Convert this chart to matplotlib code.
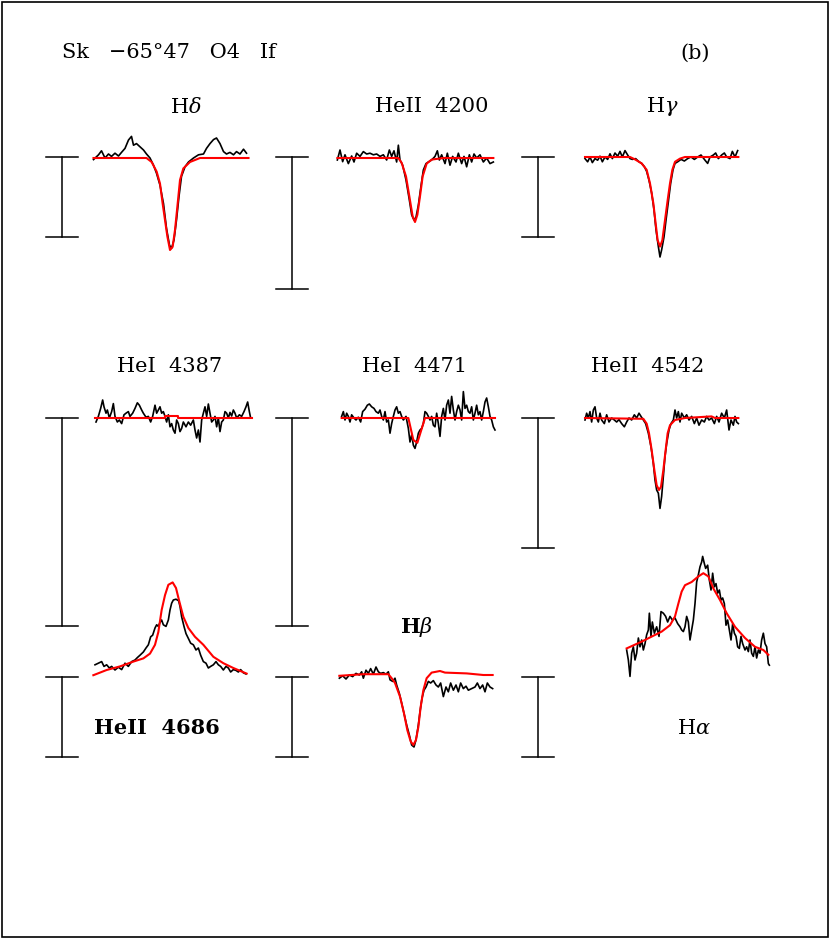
import matplotlib
matplotlib.use('Agg')
import matplotlib.pyplot as plt
from matplotlib.transforms import Affine2D
from matplotlib.patches import Rectangle

plt.rcParams['font.family'] = ['DejaVu Serif']
plt.rcParams['mathtext.fontset'] = 'dejavuserif'

# ---- data: wavelength offset (A) and normalised flux, observed + model ----
# H delta
hd_x = [-15.3, -14.3, -13.7, -13.0, -12.3, -11.7, -11.0, -10.3, -9.7, -9.0, -8.3, -7.7, -7.3, -6.7, -6.0,
        -5.3, -4.7, -4.0, -3.3, -2.7, -2.0, -1.3, -0.7, -0.1, 0.3, 0.8, 1.3, 1.8, 2.3, 3.0, 3.7, 4.7,
        5.7, 6.7, 7.3, 8.0, 8.7, 9.3, 10.0, 10.7, 11.3, 12.0, 12.7, 13.3, 14.0, 14.7, 15.3]
hd_f = [0.998, 1.004, 1.009, 1.000, 1.005, 1.002, 1.006, 1.0025, 1.007, 1.012, 1.0225, 1.027, 1.016, 1.018,
        1.014, 1.010, 1.005, 1.000, 0.991, 0.981, 0.966, 0.943, 0.912, 0.891, 0.887, 0.8975, 0.9225, 0.952,
        0.977, 0.989, 0.995, 1.000, 1.004, 1.005, 1.012, 1.018, 1.023, 1.025, 1.018, 1.008, 1.005, 1.007,
        1.004, 1.008, 1.005, 1.011, 1.006]
hd_mx = [-15.3, -4.7, -3.67, -2.67, -2.0, -1.47, -1.0, -0.53, 0.0, 0.53, 1.0, 1.47, 2.0, 2.67, 4.0, 6.0, 15.7]
hd_mf = [1.0, 1.0, 0.995, 0.983, 0.968, 0.943, 0.9225, 0.902, 0.885, 0.889, 0.91, 0.939, 0.9725, 0.987,
         0.995, 1.0, 1.0]

# HeII 4200
he4200_x = [-15.33, -14.8, -14.27, -13.8, -13.13, -12.47, -12.0, -11.47, -10.8, -10.13, -9.47, -8.8, -8.13,
            -7.47, -6.8, -6.13, -5.47, -4.93, -4.47, -4.0, -3.47, -3.13, -2.8, -2.27, -1.6, -0.93, -0.47,
            0.0, 0.4, 0.87, 1.33, 1.87, 2.4, 2.87, 3.53, 4.2, 4.67, 5.07, 5.53, 6.2, 6.67, 7.2, 7.73, 8.4,
            8.87, 9.53, 10.0, 10.53, 11.07, 11.53, 12.0, 12.53, 13.2, 13.87, 14.53, 15.2, 15.87]
he4200_f = [0.9975, 1.010, 0.9954, 1.004, 0.993, 1.0025, 0.995, 1.006, 1.002, 1.008, 1.005, 1.006, 1.004,
            1.005, 1.002, 1.004, 0.9975, 1.010, 1.002, 1.009, 0.995, 1.016, 0.9975, 0.991, 0.9725, 0.9475,
            0.929, 0.9225, 0.926, 0.941, 0.962, 0.985, 0.993, 0.995, 0.9975, 1.002, 1.009, 0.9975, 1.004,
            0.993, 1.006, 0.991, 1.002, 0.995, 1.006, 0.993, 1.002, 0.989, 1.004, 0.995, 1.005, 1.0, 1.004,
            0.995, 1.0, 0.993, 0.995]
he4200_mx = [-15.33, -3.13, -2.47, -1.6, -0.93, -0.27, 0.2, 0.67, 1.2, 1.73, 2.53, 3.53, 5.9, 15.87]
he4200_mf = [1.0, 1.0, 0.994, 0.977, 0.952, 0.927, 0.920, 0.929, 0.952, 0.977, 0.993, 0.998, 1.0, 1.0]

# H gamma
hg_x = [-15.0, -14.47, -14.0, -13.53, -13.0, -12.47, -12.0, -11.53, -11.0, -10.47, -10.0, -9.53, -9.0,
        -8.47, -8.0, -7.53, -7.0, -6.47, -6.0, -5.53, -4.87, -4.2, -3.67, -3.13, -2.67, -2.2, -1.67, -1.2,
        -0.8, -0.33, 0.0, 0.33, 0.8, 1.2, 1.67, 2.13, 2.6, 3.0, 3.53, 4.2, 4.87, 5.53, 6.2, 6.87, 7.53,
        8.2, 9.0, 9.53, 10.0, 10.67, 11.13, 11.67, 12.33, 12.87, 13.33, 14.0, 14.47, 15.0, 15.53]
hg_f = [0.998, 0.994, 1.0, 0.993, 0.998, 0.996, 1.001, 0.994, 1.0, 0.997, 1.004, 0.998, 1.005, 1.001,
        1.007, 1.0, 1.008, 1.0025, 0.998, 0.997, 0.998, 0.994, 0.992, 0.988, 0.982, 0.971, 0.955, 0.934,
        0.909, 0.888, 0.875, 0.884, 0.900, 0.921, 0.944, 0.967, 0.984, 0.992, 0.994, 0.997, 0.995, 0.998,
        1.0, 0.997, 1.0, 1.0025, 0.996, 0.992, 1.0, 1.0025, 1.005, 0.998, 1.0025, 1.005, 1.0, 0.998, 1.007,
        1.0, 1.008]
hg_mx = [-15.0, -6.0, -5.0, -3.67, -2.67, -2.0, -1.33, -0.87, -0.47, 0.0, 0.47, 1.0, 1.53, 2.0, 2.47,
         3.0, 4.0, 5.0, 15.67]
hg_mf = [1.0, 1.0, 0.997, 0.992, 0.984, 0.967, 0.942, 0.917, 0.896, 0.888, 0.896, 0.921, 0.946, 0.967,
         0.984, 0.994, 0.998, 1.0, 1.0]

# HeI 4387
he4387_x = [-15.4, -14.93, -14.47, -14.07, -13.8, -13.4, -13.13, -12.73, -12.27, -11.93, -11.6, -11.13,
            -10.73, -10.27, -9.8, -9.4, -8.93, -8.6, -8.07, -7.6, -7.13, -6.73, -6.27, -5.93, -5.4, -4.93,
            -4.47, -4.07, -3.6, -3.27, -2.93, -2.6, -2.27, -1.93, -1.6, -1.27, -0.93, -0.6, -0.27, 0.07,
            0.4, 0.73, 1.07, 1.4, 1.73, 2.07, 2.6, 3.07, 3.53, 4.07, 4.4, 4.73, 5.07, 5.4, 5.73, 6.07, 6.4,
            6.73, 7.07, 7.4, 7.73, 8.07, 8.4, 8.73, 9.07, 9.4, 9.73, 10.07, 10.4, 10.73, 11.07, 11.4, 11.73,
            12.07, 12.4, 12.73, 13.27, 13.73, 14.2, 14.6, 14.93, 15.27, 15.53]
he4387_f = [0.995, 1.002, 1.012, 1.0225, 1.014, 1.006, 1.010, 1.0, 1.008, 1.018, 1.002, 0.995, 0.9975,
            0.993, 1.004, 1.006, 1.008, 1.002, 1.006, 1.012, 1.019, 1.016, 1.010, 1.006, 1.001, 1.002, 0.995,
            1.002, 1.016, 1.006, 1.010, 1.014, 1.006, 1.008, 1.002, 0.995, 1.004, 0.989, 0.993, 0.985, 0.981,
            0.9975, 0.993, 0.983, 0.987, 0.995, 0.989, 0.995, 0.991, 0.9975, 0.985, 0.975, 0.985, 0.970,
            0.9975, 1.006, 1.014, 1.002, 1.0175, 1.006, 0.995, 0.9975, 1.002, 0.989, 1.0, 0.983, 0.995,
            0.9975, 1.008, 1.006, 1.0, 1.007, 1.0025, 1.010, 1.006, 1.0, 1.004, 1.002, 1.008, 1.014, 1.020,
            1.008, 1.0]
he4387_mx = [-15.6, -1.6, -1.6, 1.07, 1.07, 15.7]
he4387_mf = [1.0, 1.0, 1.0025, 1.0025, 1.0, 1.0]

# HeI 4471
he4471_x = [-14.67, -14.33, -14.0, -13.67, -13.33, -13.0, -12.67, -12.2, -11.8, -11.33, -10.87, -10.47,
            -10.0, -9.53, -9.13, -8.67, -8.2, -7.8, -7.33, -7.0, -6.67, -6.33, -6.0, -5.67, -5.33, -5.0,
            -4.67, -4.33, -4.0, -3.67, -3.33, -3.0, -2.67, -2.33, -1.8, -1.33, -1.0, -0.67, -0.33, 0.0,
            0.33, 0.67, 1.0, 1.33, 1.67, 2.0, 2.33, 2.67, 3.0, 3.33, 3.67, 4.0, 4.33, 4.67, 5.0, 5.33, 5.67,
            6.0, 6.33, 6.67, 7.0, 7.33, 7.67, 8.0, 8.33, 8.67, 9.0, 9.33, 9.67, 10.0, 10.33, 10.67, 11.0,
            11.33, 11.67, 12.0, 12.33, 12.67, 13.0, 13.33, 13.67, 14.0, 14.33, 14.67, 15.0, 15.33, 15.67, 16.0]
he4471_f = [1.002, 1.008, 0.9975, 1.006, 1.002, 0.995, 1.004, 1.0, 0.9975, 1.001, 0.995, 1.008, 1.011,
            1.016, 1.0175, 1.014, 1.012, 1.008, 1.006, 1.010, 1.002, 0.9975, 1.008, 0.995, 0.9975, 0.981,
            0.993, 1.002, 1.010, 1.014, 1.006, 1.008, 1.002, 0.9975, 1.002, 0.987, 0.970, 0.979, 0.966,
            0.962, 0.970, 0.981, 0.985, 0.987, 0.993, 1.008, 1.006, 1.002, 0.9975, 1.002, 0.991, 0.989,
            1.006, 0.993, 0.977, 1.002, 1.012, 0.9975, 1.016, 1.0225, 1.006, 1.027, 1.010, 0.9975, 1.008,
            1.016, 1.010, 0.9975, 1.033, 1.012, 1.016, 1.008, 1.006, 1.014, 0.9975, 1.006, 1.016, 1.004,
            1.008, 0.9975, 1.008, 1.020, 1.025, 1.014, 1.002, 0.9975, 0.989, 0.985]
he4471_mx = [-14.67, -1.33, -0.33, 0.47, 2.0, 16.0]
he4471_mf = [1.0, 1.0, 0.9725, 0.969, 1.0, 1.0]

# HeII 4542
he4542_x = [-14.8, -14.47, -14.13, -13.8, -13.47, -13.13, -12.8, -12.47, -12.13, -11.8, -11.47, -10.93,
            -10.47, -10.0, -9.47, -8.93, -8.47, -8.0, -7.47, -6.93, -6.47, -6.0, -5.47, -4.93, -4.47, -4.0,
            -3.6, -3.13, -2.67, -2.13, -1.6, -1.13, -0.8, -0.47, -0.13, 0.2, 0.53, 0.87, 1.2, 1.53, 2.0,
            2.4, 2.87, 3.2, 3.53, 3.87, 4.2, 4.53, 5.07, 5.53, 6.0, 6.53, 7.07, 7.53, 8.0, 8.53, 9.07, 9.53,
            10.0, 10.53, 11.07, 11.53, 12.0, 12.53, 13.07, 13.53, 14.0, 14.4, 14.87, 15.2, 15.53, 15.87]
he4542_f = [0.9975, 1.006, 1.0, 1.008, 0.995, 1.010, 1.014, 1.0, 0.995, 1.006, 0.9975, 0.993, 1.004,
            0.995, 1.0, 0.9975, 0.995, 0.998, 0.993, 0.989, 0.995, 1.0, 0.9975, 1.004, 1.0, 1.006, 1.002,
            0.9975, 0.993, 0.981, 0.964, 0.943, 0.9225, 0.910, 0.906, 0.887, 0.902, 0.927, 0.952, 0.968,
            0.985, 0.993, 0.9975, 1.010, 1.0, 1.008, 0.995, 1.006, 1.0, 1.004, 0.9975, 1.002, 0.993, 1.0,
            0.991, 0.9975, 0.995, 1.002, 0.9975, 1.0, 0.993, 1.002, 0.995, 1.006, 1.0, 1.010, 0.985, 0.9975,
            0.991, 1.002, 0.995, 0.993]
he4542_mx = [-14.8, -3.13, -2.47, -2.0, -1.47, -0.93, -0.47, 0.0, 0.4, 0.87, 1.33, 1.73, 2.2, 3.2, 5.2,
             10.5, 11.2, 15.87]
he4542_mf = [1.0, 0.999, 0.993, 0.981, 0.96, 0.935, 0.916, 0.91, 0.914, 0.935, 0.96, 0.981, 0.991,
             0.9975, 1.0, 1.002, 1.0, 1.0]

# HeII 4686 (emission)
he4686_x = [-15.6, -14.93, -14.27, -13.8, -13.27, -12.73, -12.27, -11.6, -10.93, -10.27, -9.6, -8.93,
            -8.27, -7.6, -7.13, -6.6, -5.93, -5.4, -4.93, -4.47, -4.07, -3.6, -3.27, -2.93, -2.6, -2.27,
            -1.93, -1.4, -0.93, -0.6, -0.27, 0.07, 0.6, 1.13, 1.4, 1.73, 2.2, 2.6, 3.07, 3.53, 4.07, 4.6,
            5.07, 5.53, 6.07, 6.6, 7.07, 7.53, 8.07, 8.6, 9.07, 9.53, 10.07, 10.6, 11.07, 11.53, 12.07,
            12.6, 13.07, 13.53, 14.07, 14.6]
he4686_f = [1.009, 1.011, 1.013, 1.007, 1.009, 1.005, 1.007, 1.0025, 1.006, 1.003, 1.011, 1.007, 1.013,
            1.015, 1.018, 1.021, 1.025, 1.030, 1.034, 1.044, 1.046, 1.055, 1.059, 1.057, 1.062, 1.065,
            1.059, 1.057, 1.065, 1.0775, 1.086, 1.090, 1.091, 1.089, 1.082, 1.069, 1.057, 1.048, 1.042,
            1.036, 1.034, 1.0275, 1.030, 1.021, 1.013, 1.011, 1.005, 1.007, 1.009, 1.013, 1.009, 1.007,
            1.0025, 1.007, 1.005, 1.0, 1.003, 1.002, 1.0, 1.003, 0.999, 0.9975]
he4686_mx = [-15.93, -13.27, -10.6, -7.93, -5.93, -4.6, -3.6, -2.93, -2.27, -1.6, -0.93, -0.07, 0.6,
             1.27, 2.07, 3.07, 4.4, 6.07, 8.07, 10.07, 12.07, 14.73]
he4686_mf = [0.996, 1.0025, 1.007, 1.013, 1.017, 1.023, 1.034, 1.050, 1.0775, 1.096, 1.109, 1.112,
             1.105, 1.088, 1.069, 1.055, 1.044, 1.034, 1.019, 1.011, 1.005, 0.998]

# H beta
hb_x = [-14.73, -14.07, -13.4, -12.73, -12.07, -11.4, -10.73, -10.27, -9.93, -9.4, -8.93, -8.47, -7.93,
        -7.4, -6.93, -6.47, -5.93, -5.4, -4.93, -4.6, -4.07, -3.6, -3.27, -2.73, -2.27, -1.8, -1.27, -0.73,
        -0.27, 0.2, 0.6, 1.07, 1.4, 1.8, 2.2, 2.6, 3.07, 3.53, 4.07, 4.6, 5.07, 5.53, 6.07, 6.6, 7.07,
        7.53, 8.07, 8.6, 9.07, 9.53, 10.07, 10.6, 11.07, 11.73, 12.4, 12.87, 13.4, 13.93, 14.4, 14.87,
        15.4, 15.93]
hb_f = [0.996, 0.999, 0.995, 1.0, 0.998, 1.002, 1.0, 1.004, 0.996, 1.006, 1.002, 1.008, 1.001, 1.010,
        1.004, 1.002, 1.003, 1.001, 1.004, 0.994, 0.992, 0.996, 0.9875, 0.977, 0.965, 0.952, 0.9375, 0.925,
        0.9125, 0.910, 0.919, 0.9375, 0.954, 0.971, 0.981, 0.985, 0.992, 0.990, 0.993, 0.9875, 0.985,
        0.990, 0.973, 0.985, 0.979, 0.990, 0.981, 0.9875, 0.979, 0.990, 0.983, 0.986, 0.981, 0.983, 0.985,
        0.990, 0.983, 0.9875, 0.979, 0.990, 0.985, 0.983]
hb_mx = [-14.73, -9.93, -4.93, -4.27, -3.6, -2.6, -1.8, -1.13, -0.47, 0.07, 0.6, 1.07, 1.53, 2.07, 2.73,
         3.73, 5.4, 6.4, 10.73, 14.07, 15.93]
hb_mf = [0.999, 1.001, 1.001, 0.996, 0.990, 0.973, 0.952, 0.931, 0.917, 0.9125, 0.919, 0.935, 0.960,
         0.981, 0.996, 1.003, 1.005, 1.003, 1.002, 1.0, 1.0]

# H alpha (emission)
ha_x = [-15.27, -14.93, -14.6, -14.27, -13.93, -13.6, -13.27, -12.93, -12.6, -12.27, -11.93, -11.6,
        -11.27, -10.93, -10.73, -10.4, -10.13, -9.73, -9.27, -8.8, -8.4, -7.93, -7.47, -7.07, -6.6, -6.13,
        -5.6, -5.07, -4.6, -4.27, -3.93, -3.6, -3.27, -2.93, -2.6, -2.27, -1.93, -1.6, -1.27, -0.93, -0.6,
        -0.27, -0.07, 0.27, 0.53, 0.93, 1.27, 1.6, 1.93, 2.27, 2.6, 2.93, 3.27, 3.6, 3.93, 4.27, 4.6,
        4.93, 5.27, 5.6, 5.93, 6.27, 6.6, 6.93, 7.27, 7.6, 7.93, 8.4, 8.73, 9.07, 9.4, 9.73, 10.07, 10.4,
        10.73, 11.07, 11.4, 11.73, 12.07, 12.4, 12.73, 13.07, 13.27]
ha_f = [1.0, 0.9875, 0.967, 0.996, 1.004, 0.9875, 0.996, 1.015, 1.004, 1.0125, 1.0, 1.008, 1.019, 1.025,
        1.046, 1.017, 1.035, 1.021, 1.029, 1.017, 1.048, 1.046, 1.042, 1.035, 1.042, 1.0375, 1.040, 1.033,
        1.029, 1.025, 1.023, 1.029, 1.042, 1.035, 1.0125, 1.025, 1.0375, 1.058, 1.085, 1.094, 1.104, 1.110,
        1.117, 1.108, 1.102, 1.106, 1.0875, 1.075, 1.096, 1.079, 1.083, 1.071, 1.075, 1.0625, 1.065, 1.058,
        1.031, 1.0375, 1.025, 1.0125, 1.033, 1.021, 1.017, 1.004, 1.002, 1.017, 1.008, 1.0, 1.004, 0.998,
        1.0125, 0.996, 0.992, 1.004, 0.990, 1.0, 0.996, 1.0125, 1.021, 1.008, 1.004, 0.983, 0.981]
ha_mx = [-15.27, -12.27, -8.27, -6.6, -5.6, -4.93, -4.27, -3.6, -2.27, -0.93, 0.07, 1.07, 2.07, 3.4,
         4.73, 6.4, 8.4, 10.4, 12.07, 13.07]
ha_mf = [1.002, 1.0105, 1.023, 1.031, 1.042, 1.058, 1.073, 1.081, 1.085, 1.092, 1.096, 1.092, 1.077,
         1.0625, 1.046, 1.029, 1.015, 1.004, 1.0, 0.994]

# line labels and scale-bar lengths (in continuum units)
labels = [r'H$\delta$', 'HeII  4200', r'H$\gamma$',
          'HeI  4387', 'HeI  4471', 'HeII  4542',
          'HeII  4686', r'H$\beta$', r'H$\alpha$']
bar_len = [0.1, 0.165, 0.1, 0.26, 0.26, 0.1625, 0.1, 0.1, 0.1]

spectra = [(hd_x, hd_f, hd_mx, hd_mf), (he4200_x, he4200_f, he4200_mx, he4200_mf),
           (hg_x, hg_f, hg_mx, hg_mf), (he4387_x, he4387_f, he4387_mx, he4387_mf),
           (he4471_x, he4471_f, he4471_mx, he4471_mf), (he4542_x, he4542_f, he4542_mx, he4542_mf),
           (he4686_x, he4686_f, he4686_mx, he4686_mf), (hb_x, hb_f, hb_mx, hb_mf),
           (ha_x, ha_f, ha_mx, ha_mf)]

# ---- layout (pixels on the 830x939 page) ----
W, H = 830, 939
xscale = 5.0     # px per Angstrom
yscale = 800.0   # px per continuum unit
centers = [(170, 158), (414, 158), (660, 157),
           (173, 418), (415, 418), (659, 418),
           (173, 672), (413, 675), (703, 650)]
label_pos = [(186, 107), (432, 107), (662, 107),
             (170, 367), (415, 367), (648, 367),
             (157, 728), (416, 627), (694, 728)]
label_bold = [False, False, False, False, False, False, True, True, False]
bar_pos = [(62, 157), (292, 157), (538, 157),
           (62, 418), (292, 418), (538, 418),
           (62, 677), (292, 677), (538, 677)]

fig = plt.figure(figsize=(W / 100, H / 100), dpi=100)
ax = fig.add_axes([0, 0, 1, 1])
ax.set_xlim(0, W)
ax.set_ylim(H, 0)
ax.axis('off')

ax.add_patch(Rectangle((1.5, 1.5), W - 4, H - 4, fill=False, ec='black', lw=1.2))

for (sx, sf, mx, mf), (cx, cy) in zip(spectra, centers):
    tr = Affine2D().scale(xscale, -yscale).translate(cx, cy + yscale) + ax.transData
    ax.plot(sx, sf, color='black', lw=1.2, transform=tr)
    ax.plot(mx, mf, color='red', lw=1.5, transform=tr)

for (bx, by), bl in zip(bar_pos, bar_len):
    h = bl * yscale
    ax.plot([bx, bx], [by, by + h], color='black', lw=1.1)
    ax.plot([bx - 16, bx + 16], [by, by], color='black', lw=1.1)
    ax.plot([bx - 16, bx + 16], [by + h, by + h], color='black', lw=1.1)

for lab, (lx, ly), bold in zip(labels, label_pos, label_bold):
    ax.text(lx, ly, lab, fontsize=15, ha='center', va='center',
            fontweight='bold' if bold else 'normal')

ax.text(62, 53, 'Sk   \u221265\u00b047   O4   If', fontsize=15, ha='left', va='center')
ax.text(695, 53, '(b)', fontsize=15, ha='center', va='center')

fig.savefig('out.png', dpi=100)
